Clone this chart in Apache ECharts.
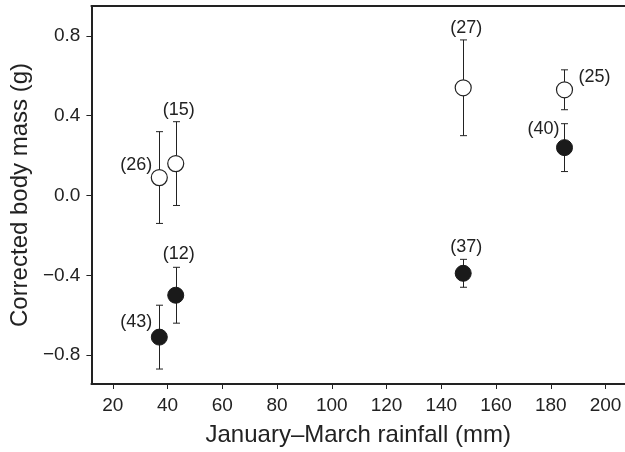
<!DOCTYPE html>
<html>
<head>
<meta charset="utf-8">
<script src="https://cdn.jsdelivr.net/npm/echarts@6/dist/echarts.min.js"></script>
<style>
  html, body { margin: 0; padding: 0; background: #fff; }
  #chart { width: 625px; height: 452px; }
</style>
</head>
<body>
<div id="chart"></div>
<script>
// January-March rainfall (mm) for each group
var rainfall = [37, 43, 148, 185];

// open circles
var openMean = [0.09, 0.16, 0.54, 0.53];
var openHigh = [0.32, 0.37, 0.78, 0.63];
var openLow = [-0.14, -0.05, 0.30, 0.43];
var openN = [26, 15, 27, 25];

// filled circles
var filledMean = [-0.71, -0.50, -0.39, 0.24];
var filledHigh = [-0.55, -0.36, -0.32, 0.36];
var filledLow = [-0.87, -0.64, -0.46, 0.12];
var filledN = [43, 12, 37, 40];

var xTicks = [20, 40, 60, 80, 100, 120, 140, 160, 180, 200];
var yTicks = [-0.8, -0.4, 0.0, 0.4, 0.8];

// where each sample size label sits (style only)
var openLabelPlace = [
    { at: 'mean', align: 'right', dx: -7, dy: -13 },
    { at: 'high', align: 'center', dx: 3, dy: -12 },
    { at: 'high', align: 'center', dx: 3, dy: -12 },
    { at: 'mean', align: 'left', dx: 14, dy: -13 }
];
var filledLabelPlace = [
    { at: 'mean', align: 'right', dx: -7, dy: -15 },
    { at: 'high', align: 'center', dx: 3, dy: -13 },
    { at: 'high', align: 'center', dx: 3, dy: -12 },
    { at: 'mean', align: 'right', dx: -5, dy: -19 }
];

var ink = '#222';
var font = '"Liberation Sans", Arial, Helvetica, sans-serif';

function rows(mean, low, high, n) {
    return rainfall.map(function (x, i) {
        return [x, mean[i], low[i], high[i], n[i], i];
    });
}

function renderErr(params, api) {
    var x = api.value(0);
    var top = api.coord([x, api.value(3)]);
    var bot = api.coord([x, api.value(2)]);
    var cx = Math.round(top[0]) + 0.5;
    var w = 3.5;
    var st = { stroke: ink, lineWidth: 1 };
    return {
        type: 'group',
        children: [
            { type: 'line', shape: { x1: cx, y1: top[1], x2: cx, y2: bot[1] }, style: st },
            { type: 'line', shape: { x1: cx - w, y1: top[1], x2: cx + w, y2: top[1] }, style: st },
            { type: 'line', shape: { x1: cx - w, y1: bot[1], x2: cx + w, y2: bot[1] }, style: st }
        ]
    };
}

function labelRenderer(places) {
    return function (params, api) {
        var i = api.value(5);
        var p = places[i];
        var yv = p.at === 'high' ? api.value(3) : api.value(1);
        var pt = api.coord([api.value(0), yv]);
        return {
            type: 'text',
            x: pt[0] + p.dx,
            y: pt[1] + p.dy,
            style: {
                text: '(' + api.value(4) + ')',
                fill: ink,
                font: '18px ' + font,
                align: p.align,
                verticalAlign: 'middle'
            },
            z2: 10
        };
    };
}

var chart = echarts.init(document.getElementById('chart'));

chart.setOption({
    backgroundColor: '#fff',
    animation: false,
    grid: { left: 85, right: 0, top: 6, bottom: 67 },
    xAxis: [{
        type: 'value',
        min: 12.2,
        max: 207.1,
        name: 'January\u2013March rainfall (mm)',
        nameLocation: 'middle',
        nameGap: 39,
        nameTextStyle: { color: ink, fontSize: 24, fontFamily: font },
        splitLine: { show: false },
        axisLine: { show: true, onZero: false, lineStyle: { color: ink, width: 2 } },
        axisTick: { show: true, length: 5, inside: false, customValues: xTicks, lineStyle: { color: ink, width: 1 } },
        axisLabel: { customValues: xTicks, margin: 12, color: ink, fontSize: 19, fontFamily: font }
    }, {
        type: 'value',
        position: 'top',
        min: 12.2,
        max: 207.1,
        splitLine: { show: false },
        axisLine: { show: true, onZero: false, lineStyle: { color: ink, width: 2 } },
        axisTick: { show: false },
        axisLabel: { show: false }
    }],
    yAxis: {
        type: 'value',
        min: -0.945,
        max: 0.95,
        name: 'Corrected body mass (g)',
        nameLocation: 'middle',
        nameGap: 53,
        nameTextStyle: { color: ink, fontSize: 24, fontFamily: font },
        splitLine: { show: false },
        axisLine: { show: true, onZero: false, lineStyle: { color: ink, width: 2 } },
        axisTick: { show: true, length: 5, customValues: yTicks, lineStyle: { color: ink, width: 1 } },
        axisLabel: {
            customValues: yTicks,
            margin: 11,
            color: ink,
            fontSize: 19,
            fontFamily: font,
            formatter: function (v) {
                var s = Math.abs(v).toFixed(1);
                return v < -1e-9 ? '\u2212' + s : s;
            }
        }
    },
    series: [{
        type: 'custom',
        renderItem: renderErr,
        data: rows(openMean, openLow, openHigh, openN),
        z: 1
    }, {
        type: 'custom',
        renderItem: renderErr,
        data: rows(filledMean, filledLow, filledHigh, filledN),
        z: 1
    }, {
        type: 'scatter',
        data: rows(openMean, openLow, openHigh, openN),
        symbol: 'circle',
        symbolSize: 16,
        itemStyle: { color: '#fff', borderColor: ink, borderWidth: 1.2, opacity: 1 },
        z: 3
    }, {
        type: 'scatter',
        data: rows(filledMean, filledLow, filledHigh, filledN),
        symbol: 'circle',
        symbolSize: 16,
        itemStyle: { color: '#1a1a1a', borderColor: '#1a1a1a', borderWidth: 1, opacity: 1 },
        z: 3
    }, {
        type: 'custom',
        renderItem: labelRenderer(openLabelPlace),
        data: rows(openMean, openLow, openHigh, openN),
        z: 5
    }, {
        type: 'custom',
        renderItem: labelRenderer(filledLabelPlace),
        data: rows(filledMean, filledLow, filledHigh, filledN),
        z: 5
    }]
});
</script>
</body>
</html>
